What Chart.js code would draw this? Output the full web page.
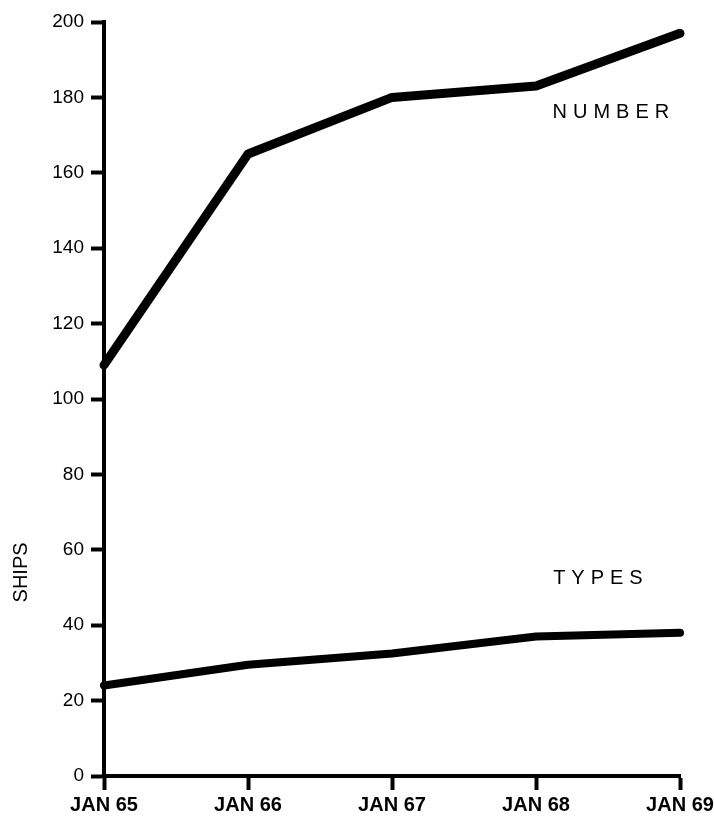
<!DOCTYPE html>
<html>
<head>
<meta charset="utf-8">
<script src="https://cdn.jsdelivr.net/npm/chart.js@4"></script>
<style>
  body { margin: 0; background: #fff; }
  #wrap { width: 714px; height: 817px; }
</style>
</head>
<body>
<div id="wrap"><canvas id="chart" width="714" height="817"></canvas></div>
<script>
// data
const months = ["JAN 65", "JAN 66", "JAN 67", "JAN 68", "JAN 69"];
const numberShips = [109, 165, 180, 183, 197];
const typesShips = [24, 29.5, 32.5, 37, 38];
const yTicks = [0, 20, 40, 60, 80, 100, 120, 140, 160, 180, 200];

// series names written next to the lines (x = category index, y = value)
const seriesNames = ["NUMBER", "TYPES"];
const nameX = [3.52, 3.43];
const nameY = [176, 52.5];
const axisTitle = "SHIPS";

const ink = "#000";
const face = "'Liberation Sans'";

// writes the line names and the axis title
const textPlugin = {
    id: "textPlugin",
    afterDraw(chart) {
        const ctx = chart.ctx;
        const xs = chart.scales.x, ys = chart.scales.y;
        ctx.save();
        ctx.fillStyle = ink;
        ctx.font = "20px " + face;
        ctx.letterSpacing = "6px";
        ctx.textAlign = "center";
        ctx.textBaseline = "middle";
        seriesNames.forEach((name, i) => {
            ctx.fillText(name, xs.getPixelForValue(nameX[i]) + 3, ys.getPixelForValue(nameY[i]));
        });
        ctx.letterSpacing = "0px";
        ctx.font = "20px " + face;
        ctx.translate(21, ys.getPixelForValue(54));
        ctx.rotate(-Math.PI / 2);
        ctx.fillText(axisTitle, 0, 0);
        ctx.restore();
    }
};

const ctx = document.getElementById("chart").getContext("2d");
new Chart(ctx, {
    type: "line",
    data: {
        labels: months,
        datasets: [
            { label: seriesNames[0], data: numberShips, borderWidth: 9 },
            { label: seriesNames[1], data: typesShips, borderWidth: 8 }
        ].map(d => Object.assign(d, {
            borderColor: ink,
            pointRadius: 0,
            tension: 0,
            borderCapStyle: "round",
            borderJoinStyle: "round",
            clip: false
        }))
    },
    options: {
        responsive: false,
        animation: false,
        layout: { padding: { top: 22, right: 34, left: 0, bottom: 0 } },
        plugins: { legend: { display: false }, tooltip: { enabled: false } },
        scales: {
            x: {
                offset: false,
                border: { display: true, color: ink, width: 4 },
                grid: { drawOnChartArea: false, drawTicks: true, tickLength: 14, tickWidth: 4, tickColor: ink },
                ticks: {
                    color: ink, padding: 3, maxRotation: 0, autoSkip: false,
                    font: { family: face, size: 20, weight: "bold" }
                },
                afterFit(scale) {
                    scale.height = 41;
                    scale.paddingRight = 0;
                    scale.paddingLeft = 0;
                }
            },
            y: {
                min: 0, max: 200,
                border: { display: true, color: ink, width: 4 },
                grid: { drawOnChartArea: false, drawTicks: true, tickLength: 13, tickWidth: 4, tickColor: ink },
                afterBuildTicks(scale) { scale.ticks = yTicks.map(v => ({ value: v })); },
                ticks: {
                    color: ink, padding: 7,
                    font: { family: face, size: 19 }
                },
                afterFit(scale) { scale.width = 104; }
            }
        }
    },
    plugins: [textPlugin]
});
</script>
</body>
</html>
